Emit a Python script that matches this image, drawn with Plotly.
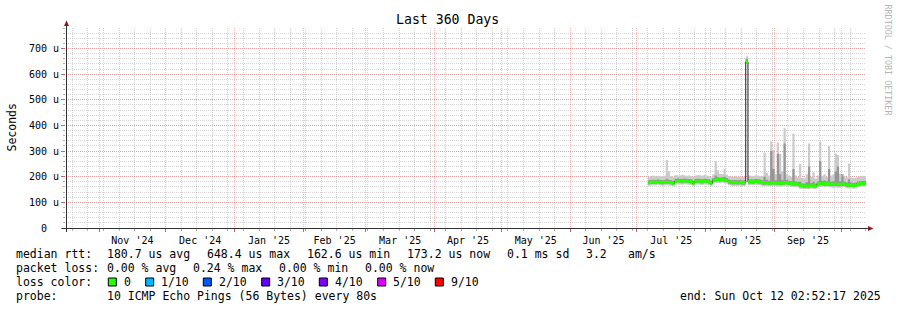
import plotly.graph_objects as go
import pandas as pd

# ---------------- data (microseconds, one value per day) ----------------
range_start = "2024-10-17 02:52:17"
range_end = "2025-10-12 02:52:17"
data_start = "2025-07-06"

median = [177, 178, 179, 178, 180, 178, 177, 178, 179, 178, 177,
          174,
          183, 184, 183, 182, 184, 183, 182, 181,
          175,
          182, 183, 182, 181, 183, 182, 180,
          175,
          186, 188, 189, 188, 189, 187, 186,
          180, 178, 177, 178, 177, 178, 176, 177,
          648,
          180, 181, 180, 182, 181, 180,
          177, 176, 177, 175, 176, 177, 176, 175, 174, 175, 176, 177, 175,
          173, 172, 172, 171,
          166, 165, 164, 165, 164, 166, 165, 164,
          172, 173, 174, 172, 173,
          172, 171, 170, 171, 170, 170, 171, 172,
          168, 167, 168, 166, 167,
          172, 173, 174, 174]

ping_min = [165, 166, 167, 166, 168, 166, 165, 166, 167, 166, 165,
            162,
            170, 171, 170, 169, 171, 170, 169, 168,
            163,
            169, 170, 169, 168, 170, 169, 167,
            163,
            173, 175, 176, 175, 176, 174, 173,
            167, 165, 164, 165, 164, 165, 163, 164,
            641,
            167, 168, 167, 169, 168, 167,
            164, 163, 164, 162, 163, 164, 163, 162, 161, 162, 164, 164, 162,
            160, 159, 159, 158,
            153, 152, 151, 152, 151, 153, 152, 151,
            159, 160, 161, 159, 160,
            159, 158, 157, 158, 157, 157, 158, 159,
            155, 154, 155, 153, 154,
            159, 160, 161, 161]

ping_q1 = [171, 172, 173, 172, 174, 172, 171, 172, 173, 172, 171,
           168,
           176, 177, 176, 175, 177, 176, 175, 174,
           169,
           175, 176, 175, 174, 176, 175, 173,
           169,
           179, 181, 182, 181, 182, 180, 179,
           173, 171, 170, 171, 170, 171, 169, 170,
           645,
           173, 174, 173, 175, 174, 173,
           170, 169, 170, 168, 169, 170, 169, 168, 167, 168, 170, 170, 168,
           166, 165, 165, 164,
           159, 158, 157, 158, 157, 159, 158, 157,
           165, 166, 167, 165, 166,
           165, 164, 163, 164, 163, 163, 164, 165,
           161, 160, 161, 159, 160,
           165, 166, 167, 167]

ping_q3 = [186, 187, 188, 187, 189, 187, 186, 187, 192, 188, 186,
           183,
           192, 193, 192, 191, 193, 192, 191, 190,
           184,
           191, 192, 191, 190, 192, 191, 189,
           184,
           195, 205, 198, 197, 198, 200, 195,
           189, 187, 186, 187, 186, 187, 185, 186,
           660,
           189, 190, 189, 191, 190, 189,
           186, 200, 188, 184, 300, 230, 186, 290, 210, 186, 330, 188, 184,
           182, 230, 181, 180,
           180, 174, 173, 178, 240, 175, 180, 173,
           181, 260, 183, 185, 182,
           230, 180, 182, 220, 240, 181, 210, 181,
           177, 190, 177, 175, 176,
           181, 182, 183, 183]

ping_max = [200, 203, 205, 202, 204, 203, 201, 204, 265, 220, 203,
            198,
            207, 206, 205, 208, 206, 204, 205, 203,
            199,
            205, 207, 206, 204, 208, 205, 203,
            198,
            210, 260, 225, 212, 211, 230, 209,
            203, 201, 200, 202, 199, 201, 199, 200,
            670,
            205, 204, 203, 206, 205, 203,
            202, 294, 215, 205, 337, 304, 210, 333, 290, 220, 389, 212, 205,
            200, 369, 205, 198,
            250, 195, 194, 210, 330, 200, 217, 193,
            205, 337, 204, 210, 200,
            320, 205, 210, 291, 285, 212, 200, 203,
            198, 252, 197, 195, 196,
            200, 202, 204, 203]

y_tick_values = [0, 100, 200, 300, 400, 500, 600, 700]
y_tick_labels = ["0\u00a0\u00a0", "100 u", "200 u", "300 u", "400 u", "500 u", "600 u", "700 u"]

title_text = "Last 360 Days"
stats_line1 = [("median rtt:", 16), ("180.7 us avg", 107.3), ("648.4 us max", 207.3),
               ("162.6 us min", 307.3), ("173.2 us now", 407.3), ("0.1 ms sd", 507.3),
               ("3.2", 586), ("am/s", 628.3)]
stats_line2 = [("packet loss:", 16), ("0.00 % avg", 107.3), ("0.24 % max", 193.3),
               ("0.00 % min", 279.3), ("0.00 % now", 365.3)]
loss_labels = ["0", "1/10", "2/10", "3/10", "4/10", "5/10", "9/10"]
loss_colors = ["#26ff00", "#00b8ff", "#0059ff", "#5e00ff", "#7e00ff", "#dd00ff", "#ff0000"]
probe_text = "10 ICMP Echo Pings (56 Bytes) every 80s"
end_text = "end: Sun Oct 12 02:52:17 2025"

# ---------------- layout constants ----------------
W, H = 897, 310
PL, PR, PT, PB = 66, 866, 28, 228
YMAX = 780
MEDIAN_HALF = 6
MONO = "DejaVu Sans Mono"


def ax(px):
    return (px - PL) / (PR - PL)


def ay(py):
    return (PB - py) / (PB - PT)


dates = list(pd.date_range(data_start, periods=len(median), freq="D"))
edges = dates + [pd.Timestamp(range_end)]


def steps(vals):
    """Stair-step coordinates: each value holds from its timestamp to the next one."""
    xs, ys = [], []
    for i, v in enumerate(vals):
        xs += [edges[i], edges[i + 1]]
        ys += [v, v]
    return xs, ys


fig = go.Figure()


def band(lo, hi, color):
    xl, yl = steps(lo)
    xh, yh = steps(hi)
    fig.add_trace(go.Scatter(x=xl, y=yl, mode="lines", line=dict(width=0, simplify=False),
                             hoverinfo="skip", showlegend=False))
    fig.add_trace(go.Scatter(x=xh, y=yh, mode="lines", line=dict(width=0, simplify=False),
                             fill="tonexty", fillcolor=color, hoverinfo="skip", showlegend=False))


band(ping_min, ping_max, "#cbcbcb")
band(ping_q1, ping_q3, "#959595")

xm, ym = steps(median)
fig.add_trace(go.Scatter(x=xm, y=ym, mode="lines",
                         line=dict(width=1, color="#202020", simplify=False),
                         hoverinfo="skip", showlegend=False))
band([m - MEDIAN_HALF for m in median], [m + MEDIAN_HALF for m in median], loss_colors[0])

grid_minor = "rgba(160,160,160,0.45)"
grid_major = "rgba(255,70,70,0.35)"

fig.update_xaxes(
    type="date", range=[range_start, range_end],
    dtick="M1", tick0="2024-11-01", ticklabelmode="period", tickformat="%b '%y",
    showgrid=True, gridcolor=grid_major, griddash="1px,1px", gridwidth=1,
    ticks="outside", ticklen=3, tickcolor="#e06060",
    tickfont=dict(family=MONO, size=10, color="#000000"),
    showline=False, zeroline=False,
    minor=dict(dtick=7 * 86400000, tick0="2024-10-20", showgrid=True, gridcolor=grid_minor,
               griddash="1px,1px", ticks="outside", ticklen=2, tickcolor="#b0b0b0"),
)
fig.update_yaxes(
    range=[0, YMAX], tickmode="array", tickvals=y_tick_values, ticktext=y_tick_labels,
    showgrid=True, gridcolor=grid_major, griddash="1px,1px", gridwidth=1,
    ticks="outside", ticklen=4, tickcolor="#e06060",
    tickfont=dict(family=MONO, size=10, color="#000000"),
    showline=False, zeroline=False,
    minor=dict(dtick=20, showgrid=True, gridcolor=grid_minor, griddash="1px,1px",
               ticks="outside", ticklen=2, tickcolor="#b0b0b0"),
)

shapes = []
# axis lines
shapes.append(dict(type="line", xref="paper", yref="paper", x0=ax(62), x1=ax(868), y0=ay(228.5), y1=ay(228.5),
                   line=dict(color="#303030", width=1)))
shapes.append(dict(type="line", xref="paper", yref="paper", x0=ax(66.5), x1=ax(66.5), y0=ay(232), y1=ay(26),
                   line=dict(color="#303030", width=1)))
# arrows
shapes.append(dict(type="path", xref="paper", yref="paper",
                   path=f"M {ax(64)} {ay(26)} L {ax(69)} {ay(26)} L {ax(66.5)} {ay(20.5)} Z",
                   fillcolor="#8b1a1a", line=dict(width=0)))
shapes.append(dict(type="path", xref="paper", yref="paper",
                   path=f"M {ax(868)} {ay(226)} L {ax(868)} {ay(231)} L {ax(873.5)} {ay(228.5)} Z",
                   fillcolor="#8b1a1a", line=dict(width=0)))

annotations = []


def text(t, px, py, size=11.5, anchor="left", color="#000000", angle=0):
    annotations.append(dict(text=t, xref="paper", yref="paper", x=ax(px), y=ay(py),
                            xanchor=anchor, yanchor="middle", showarrow=False, textangle=angle,
                            borderpad=0, borderwidth=0,
                            font=dict(family=MONO, size=size, color=color)))


text(title_text, 447.8, 19.5, size=13.2, anchor="center")
text("Seconds", 11.5, 127, size=11.5, anchor="center", angle=-90)
text("RRDTOOL / TOBI OETIKER", 887.5, 60, size=8.4, anchor="center", color="#b4b4b4", angle=90)

for t, px in stats_line1:
    text(t, px, 254.3)
for t, px in stats_line2:
    text(t, px, 268.3)
text("loss color:", 16, 282.3)
box_x = [108.3, 145.7, 203.3, 261.7, 319.3, 377.7, 435.3]
for lbl, col, bx in zip(loss_labels, loss_colors, box_x):
    shapes.append(dict(type="rect", xref="paper", yref="paper", x0=ax(bx), x1=ax(bx + 8),
                       y0=ay(286), y1=ay(278), fillcolor=col, line=dict(color="#000000", width=1)))
    text(lbl, bx + 15.3, 282.3)
text("probe:", 16, 296.3)
text(probe_text, 107.3, 296.3)
text(end_text, 880.5, 296.3, anchor="right")

fig.update_layout(
    width=W, height=H,
    margin=dict(l=PL, r=W - PR, t=PT, b=H - PB),
    paper_bgcolor="#ffffff", plot_bgcolor="#ffffff",
    showlegend=False, shapes=shapes, annotations=annotations,
)

fig.write_html("out.html", config={"displayModeBar": False})
